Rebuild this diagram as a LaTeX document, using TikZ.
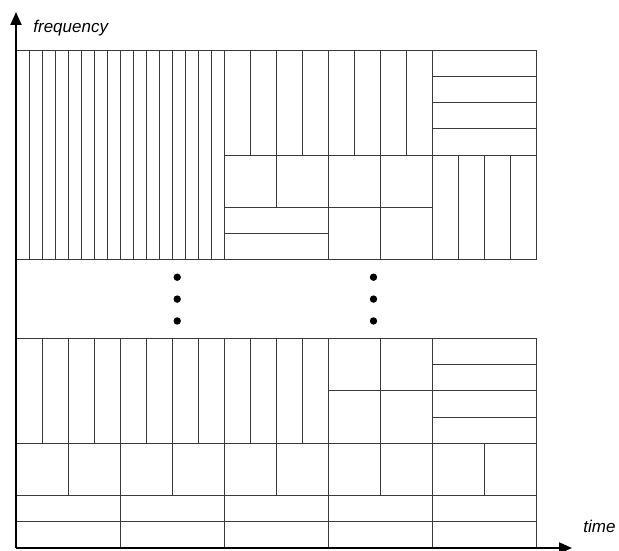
\documentclass[tikz,border=0pt]{standalone}
\usepackage{fontspec}
\setsansfont{Liberation Sans}
\usepackage{tikz}
\usepackage{xcolor}
\usetikzlibrary{arrows.meta}
\definecolor{cInk}{HTML}{000000}
\definecolor{cGrid}{HTML}{3a3a3a}
\tikzset{
  cell/.style={draw=cGrid,line width=0.45pt},
  axis/.style={-{Triangle[length=6.5pt,width=5.5pt]},line width=1pt,cInk},
  dotmark/.style={circle,fill=cInk,inner sep=0pt,minimum size=3.7pt},
  lbl/.style={inner sep=0pt,anchor=base west,font=\sffamily\itshape\fontsize{8.5}{10}\selectfont},
}

\begin{document}
\begin{tikzpicture}[x=6.5pt,y=6.55pt]
\useasboundingbox (-8pt,-1pt) rectangle (301.5pt,274pt);
\foreach \i in {0,...,15} \draw[cell] (\i,22) rectangle ++(1,16);
\foreach \i in {16,18,...,30} \draw[cell] (\i,30) rectangle ++(2,8);
\foreach \i in {16,20,24,28} \draw[cell] (\i,26) rectangle ++(4,4);
\foreach \j in {22,24} \draw[cell] (16,\j) rectangle ++(8,2);
\foreach \i in {24,28} \draw[cell] (\i,22) rectangle ++(4,4);
\foreach \j in {30,32,...,36} \draw[cell] (32,\j) rectangle ++(8,2);
\foreach \i in {32,34,...,38} \draw[cell] (\i,22) rectangle ++(2,8);
\foreach \i in {0,2,...,22} \draw[cell] (\i,8) rectangle ++(2,8);
\foreach \i in {24,28} \foreach \j in {8,12} \draw[cell] (\i,\j) rectangle ++(4,4);
\foreach \j in {8,10,...,14} \draw[cell] (32,\j) rectangle ++(8,2);
\foreach \i in {0,4,...,36} \draw[cell] (\i,4) rectangle ++(4,4);
\foreach \i in {0,8,...,32} \foreach \j in {0,2} \draw[cell] (\i,\j) rectangle ++(8,2);
\foreach \x/\n in {12.4/a,27.5/b}
  \foreach \y/\m in {17.33/1,19/2,20.67/3}
    \node[dotmark] (dot\n\m) at (\x,\y) {};
\coordinate (origin) at (0,0);
\coordinate (ftip) at (0pt,268pt);
\coordinate (ttip) at (278pt,0pt);
\draw[axis] (origin) -- (ftip);
\draw[axis] (origin) -- (ttip);
\node[lbl] (freq) at (8.5pt,257.5pt) {frequency};
\node[lbl] (time) at (283.5pt,7.5pt) {time};
\end{tikzpicture}
\end{document}
